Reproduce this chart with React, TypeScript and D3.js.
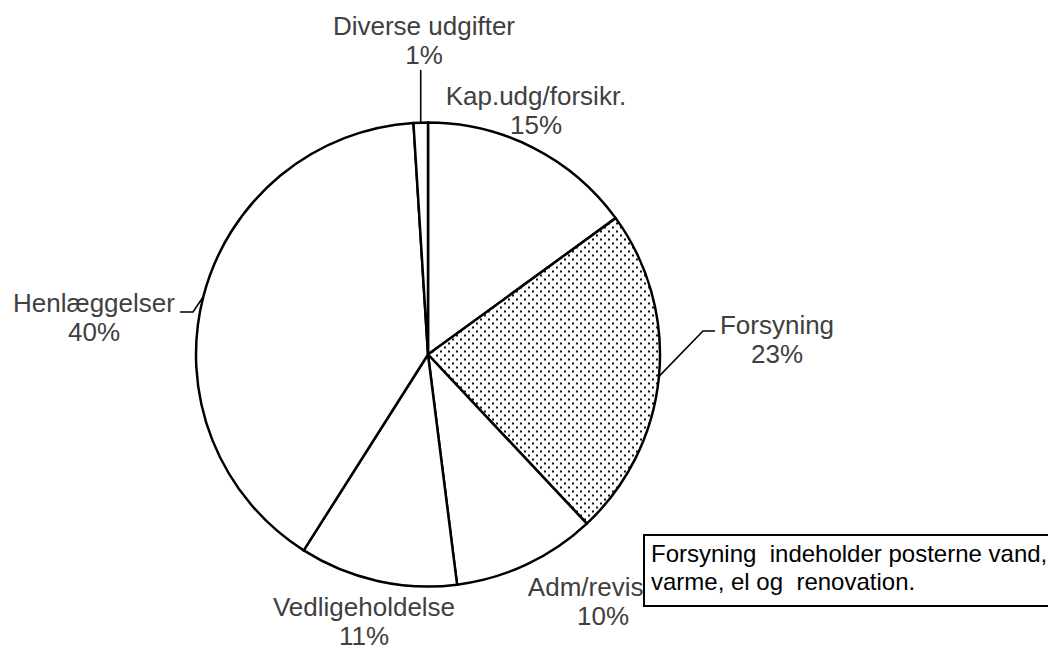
import React from "react";
import * as d3 from "d3";

const categories = ["Kap.udg/forsikr.", "Forsyning", "Adm/revision", "Vedligeholdelse", "Henlæggelser", "Diverse udgifter"];
const values = [15, 23, 10, 11, 40, 1];
const percentLabels = ["15%", "23%", "10%", "11%", "40%", "1%"];
const noteLines = ["Forsyning  indeholder posterne vand,", "varme, el og  renovation."];

// layout (label anchor centres, first-line baseline)
const labelPos: [number, number][] = [
  [536, 105],
  [777, 334],
  [603, 596],
  [364, 616],
  [94, 312],
  [424, 35],
];

const W = 1048;
const H = 647;
const cx = 428;
const cy = 354.5;
const R = 232;

export default function App() {
  const pie = d3.pie<number>().sort(null).value((d) => d).startAngle(0).endAngle(2 * Math.PI);
  const arcs = pie(values);
  const arc = d3.arc<d3.PieArcDatum<number>>().innerRadius(0).outerRadius(R);
  const onArc = (i: number, frac: number): [number, number] => {
    const a = arcs[i].startAngle + (arcs[i].endAngle - arcs[i].startAngle) * frac;
    return [cx + R * Math.sin(a), cy - R * Math.cos(a)];
  };
  const fPt = onArc(1, 0.5);
  const hPt = onArc(4, 0.5);
  const dPt = onArc(5, 0.5);
  const font = "'Liberation Sans', Arial, sans-serif";
  return (
    <svg width={W} height={H} style={{ position: "absolute", left: 0, top: 0, background: "#fff" }}>
      <defs>
        <pattern id="dots" width={8} height={8} patternUnits="userSpaceOnUse">
          <rect width={8} height={8} fill="#fff" />
          <rect x={0} y={0} width={2} height={2} fill="#111" />
          <rect x={4} y={4} width={2} height={2} fill="#111" />
        </pattern>
      </defs>
      <g transform={`translate(${cx},${cy})`}>
        {arcs.map((a, i) => (
          <path
            key={i}
            d={arc(a) || ""}
            fill={i === 1 ? "url(#dots)" : "#fff"}
            stroke="#000"
            strokeWidth={2.5}
            strokeLinejoin="round"
          />
        ))}
      </g>
      {/* leader lines */}
      <polyline points={`${fPt[0]},${fPt[1]} 703,331 715,331`} fill="none" stroke="#000" strokeWidth={1.6} />
      <polyline points={`${hPt[0]},${hPt[1]} 193,312 180,312`} fill="none" stroke="#000" strokeWidth={1.6} />
      <polyline points={`${dPt[0]},${dPt[1]} ${dPt[0]},70`} fill="none" stroke="#000" strokeWidth={1.6} />
      {categories.map((c, i) => (
        <text key={c} x={labelPos[i][0]} y={labelPos[i][1]} textAnchor="middle" fontFamily={font} fontSize={26} fill="#404040">
          <tspan x={labelPos[i][0]}>{c}</tspan>
          <tspan x={labelPos[i][0]} dy={29}>{percentLabels[i]}</tspan>
        </text>
      ))}
      <rect x={644} y={535} width={420} height={71} fill="#fff" stroke="#000" strokeWidth={2} />
      {noteLines.map((t, i) => (
        <text key={i} x={651} y={562 + i * 28} fontFamily={font} fontSize={24} fill="#000" style={{ whiteSpace: "pre" }}>
          {t}
        </text>
      ))}
    </svg>
  );
}
